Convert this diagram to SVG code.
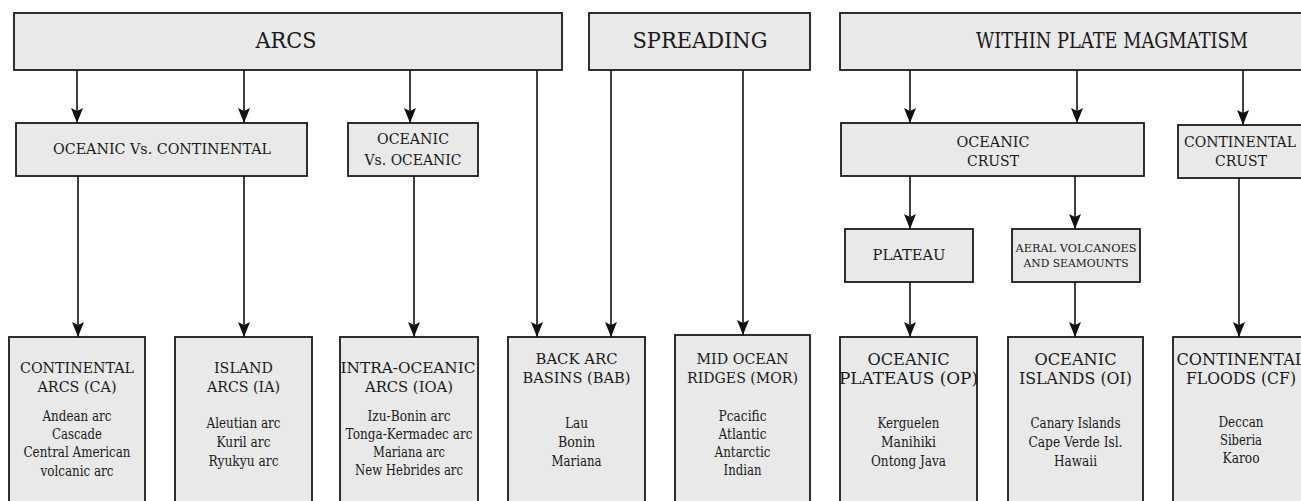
<svg xmlns="http://www.w3.org/2000/svg" width="1301" height="501" viewBox="0 0 1301 501">
  <style>
    .box { fill: #e8e9e8; stroke: #1a1a1a; stroke-width: 1.8; }
    .t { font-family: "DejaVu Serif", serif; fill: #1a1a1a; text-anchor: middle; }
    .h1 { font-size: 22.5px; }
    .h2 { font-size: 15px; }
    .h3 { font-size: 17px; }
    .sm { font-size: 11.4px; }
    .it { font-size: 14px; }
    .con { stroke: #111; stroke-width: 1.6; fill: none; marker-end: url(#arrow); }
  </style>
  <defs>
    <marker id="arrow" markerUnits="userSpaceOnUse" viewBox="0 -6 15 12" refX="15" refY="0" markerWidth="15" markerHeight="12" orient="auto">
      <path d="M0,-6 L15,0 L0,6 L3,0 z" fill="#111"/>
    </marker>
  </defs>

  <rect width="1301" height="501" fill="#ffffff"/>

  <!-- top level categories -->
  <g id="arcs">
    <rect class="box" x="14" y="13" width="548" height="57"/>
    <text class="t h1" x="286" y="48" textLength="61" lengthAdjust="spacingAndGlyphs">ARCS</text>
  </g>
  <g id="spreading">
    <rect class="box" x="589" y="13" width="221" height="57"/>
    <text class="t h1" x="700" y="48" textLength="135" lengthAdjust="spacingAndGlyphs">SPREADING</text>
  </g>
  <g id="within-plate">
    <rect class="box" x="840" y="13" width="463" height="57"/>
    <text class="t h1" x="1112" y="48" textLength="272" lengthAdjust="spacingAndGlyphs">WITHIN PLATE MAGMATISM</text>
  </g>

  <!-- second level -->
  <g id="oceanic-vs-continental">
    <rect class="box" x="16" y="123" width="291" height="53"/>
    <text class="t h2" x="162" y="154" textLength="218" lengthAdjust="spacingAndGlyphs">OCEANIC Vs. CONTINENTAL</text>
  </g>
  <g id="oceanic-vs-oceanic">
    <rect class="box" x="348" y="123" width="130" height="53"/>
    <text class="t h2" x="413" y="144" textLength="72" lengthAdjust="spacingAndGlyphs">OCEANIC</text>
    <text class="t h2" x="413" y="165" textLength="97" lengthAdjust="spacingAndGlyphs">Vs. OCEANIC</text>
  </g>
  <g id="oceanic-crust">
    <rect class="box" x="841" y="123" width="303" height="53"/>
    <text class="t h2" x="993" y="147" textLength="73" lengthAdjust="spacingAndGlyphs">OCEANIC</text>
    <text class="t h2" x="993" y="166" textLength="52" lengthAdjust="spacingAndGlyphs">CRUST</text>
  </g>
  <g id="continental-crust">
    <rect class="box" x="1178" y="125" width="125" height="53"/>
    <text class="t h2" x="1240" y="147" textLength="112" lengthAdjust="spacingAndGlyphs">CONTINENTAL</text>
    <text class="t h2" x="1241" y="166" textLength="52" lengthAdjust="spacingAndGlyphs">CRUST</text>
  </g>

  <!-- third level -->
  <g id="plateau">
    <rect class="box" x="845" y="229" width="128" height="53"/>
    <text class="t h2" x="909" y="260" textLength="73" lengthAdjust="spacingAndGlyphs">PLATEAU</text>
  </g>
  <g id="aeral-volcanoes">
    <rect class="box" x="1012" y="229" width="128" height="53"/>
    <text class="t sm" x="1076" y="252" textLength="121" lengthAdjust="spacingAndGlyphs">AERAL VOLCANOES</text>
    <text class="t sm" x="1076" y="267" textLength="105" lengthAdjust="spacingAndGlyphs">AND SEAMOUNTS</text>
  </g>

  <!-- settings -->
  <g id="continental-arcs">
    <rect class="box" x="9" y="337" width="136" height="180"/>
    <text class="t h2" x="77" y="373" textLength="114" lengthAdjust="spacingAndGlyphs">CONTINENTAL</text>
    <text class="t h2" x="77" y="392" textLength="79" lengthAdjust="spacingAndGlyphs">ARCS (CA)</text>
    <text class="t it" x="77" y="421" textLength="69" lengthAdjust="spacingAndGlyphs">Andean arc</text>
    <text class="t it" x="77" y="439" textLength="50" lengthAdjust="spacingAndGlyphs">Cascade</text>
    <text class="t it" x="77" y="457" textLength="107" lengthAdjust="spacingAndGlyphs">Central American</text>
    <text class="t it" x="77" y="476" textLength="73" lengthAdjust="spacingAndGlyphs">volcanic arc</text>
  </g>
  <g id="island-arcs">
    <rect class="box" x="175" y="337" width="137" height="180"/>
    <text class="t h2" x="243.5" y="373" textLength="59" lengthAdjust="spacingAndGlyphs">ISLAND</text>
    <text class="t h2" x="243.5" y="392" textLength="73" lengthAdjust="spacingAndGlyphs">ARCS (IA)</text>
    <text class="t it" x="243.5" y="428" textLength="74" lengthAdjust="spacingAndGlyphs">Aleutian arc</text>
    <text class="t it" x="243.5" y="447" textLength="54" lengthAdjust="spacingAndGlyphs">Kuril arc</text>
    <text class="t it" x="243.5" y="466" textLength="70" lengthAdjust="spacingAndGlyphs">Ryukyu arc</text>
  </g>
  <g id="intra-oceanic-arcs">
    <rect class="box" x="340" y="337" width="138" height="180"/>
    <text class="t h2" x="408" y="373" textLength="135" lengthAdjust="spacingAndGlyphs">INTRA-OCEANIC</text>
    <text class="t h2" x="409" y="392" textLength="88" lengthAdjust="spacingAndGlyphs">ARCS (IOA)</text>
    <text class="t it" x="409" y="421" textLength="83" lengthAdjust="spacingAndGlyphs">Izu-Bonin arc</text>
    <text class="t it" x="409" y="439" textLength="127" lengthAdjust="spacingAndGlyphs">Tonga-Kermadec arc</text>
    <text class="t it" x="409" y="457" textLength="72" lengthAdjust="spacingAndGlyphs">Mariana arc</text>
    <text class="t it" x="409" y="475" textLength="108" lengthAdjust="spacingAndGlyphs">New Hebrides arc</text>
  </g>
  <g id="back-arc-basins">
    <rect class="box" x="508" y="337" width="137" height="180"/>
    <text class="t h2" x="576.5" y="364" textLength="82" lengthAdjust="spacingAndGlyphs">BACK ARC</text>
    <text class="t h2" x="576.5" y="383" textLength="108" lengthAdjust="spacingAndGlyphs">BASINS (BAB)</text>
    <text class="t it" x="576.5" y="428" textLength="23" lengthAdjust="spacingAndGlyphs">Lau</text>
    <text class="t it" x="576.5" y="447" textLength="37" lengthAdjust="spacingAndGlyphs">Bonin</text>
    <text class="t it" x="576.5" y="466" textLength="50" lengthAdjust="spacingAndGlyphs">Mariana</text>
  </g>
  <g id="mid-ocean-ridges">
    <rect class="box" x="675" y="335" width="135" height="182"/>
    <text class="t h2" x="742.5" y="364" textLength="92" lengthAdjust="spacingAndGlyphs">MID OCEAN</text>
    <text class="t h2" x="742.5" y="383" textLength="111" lengthAdjust="spacingAndGlyphs">RIDGES (MOR)</text>
    <text class="t it" x="742.5" y="421" textLength="48" lengthAdjust="spacingAndGlyphs">Pcacific</text>
    <text class="t it" x="742.5" y="439" textLength="48" lengthAdjust="spacingAndGlyphs">Atlantic</text>
    <text class="t it" x="742.5" y="457" textLength="56" lengthAdjust="spacingAndGlyphs">Antarctic</text>
    <text class="t it" x="742.5" y="475" textLength="38" lengthAdjust="spacingAndGlyphs">Indian</text>
  </g>
  <g id="oceanic-plateaus">
    <rect class="box" x="840" y="337" width="137" height="180"/>
    <text class="t h3" x="908.5" y="365" textLength="82" lengthAdjust="spacingAndGlyphs">OCEANIC</text>
    <text class="t h3" x="908.5" y="384" textLength="139" lengthAdjust="spacingAndGlyphs">PLATEAUS (OP)</text>
    <text class="t it" x="908.5" y="428" textLength="62" lengthAdjust="spacingAndGlyphs">Kerguelen</text>
    <text class="t it" x="908.5" y="447" textLength="55" lengthAdjust="spacingAndGlyphs">Manihiki</text>
    <text class="t it" x="908.5" y="466" textLength="75" lengthAdjust="spacingAndGlyphs">Ontong Java</text>
  </g>
  <g id="oceanic-islands">
    <rect class="box" x="1008" y="337" width="135" height="180"/>
    <text class="t h3" x="1075.5" y="365" textLength="82" lengthAdjust="spacingAndGlyphs">OCEANIC</text>
    <text class="t h3" x="1075.5" y="384" textLength="113" lengthAdjust="spacingAndGlyphs">ISLANDS (OI)</text>
    <text class="t it" x="1075.5" y="428" textLength="90" lengthAdjust="spacingAndGlyphs">Canary Islands</text>
    <text class="t it" x="1075.5" y="447" textLength="94" lengthAdjust="spacingAndGlyphs">Cape Verde Isl.</text>
    <text class="t it" x="1075.5" y="466" textLength="43" lengthAdjust="spacingAndGlyphs">Hawaii</text>
  </g>
  <g id="continental-floods">
    <rect class="box" x="1173" y="337" width="130" height="180"/>
    <text class="t h3" x="1241" y="365" textLength="129" lengthAdjust="spacingAndGlyphs">CONTINENTAL</text>
    <text class="t h3" x="1241" y="384" textLength="110" lengthAdjust="spacingAndGlyphs">FLOODS (CF)</text>
    <text class="t it" x="1241" y="427" textLength="45" lengthAdjust="spacingAndGlyphs">Deccan</text>
    <text class="t it" x="1241" y="445" textLength="42" lengthAdjust="spacingAndGlyphs">Siberia</text>
    <text class="t it" x="1241" y="463" textLength="37" lengthAdjust="spacingAndGlyphs">Karoo</text>
  </g>

  <!-- connectors -->
  <g id="connectors">
    <line class="con" x1="77" y1="70" x2="77" y2="123"/>
    <line class="con" x1="244" y1="70" x2="244" y2="123"/>
    <line class="con" x1="410" y1="70" x2="410" y2="123"/>
    <line class="con" x1="537" y1="70" x2="537" y2="337"/>
    <line class="con" x1="611" y1="70" x2="611" y2="337"/>
    <line class="con" x1="743" y1="70" x2="743" y2="335"/>
    <line class="con" x1="78" y1="176" x2="78" y2="337"/>
    <line class="con" x1="244" y1="176" x2="244" y2="337"/>
    <line class="con" x1="414" y1="176" x2="414" y2="337"/>
    <line class="con" x1="910" y1="70" x2="910" y2="123"/>
    <line class="con" x1="1077" y1="70" x2="1077" y2="123"/>
    <line class="con" x1="1243" y1="70" x2="1243" y2="125"/>
    <line class="con" x1="910" y1="176" x2="910" y2="229"/>
    <line class="con" x1="1075" y1="176" x2="1075" y2="229"/>
    <line class="con" x1="1239" y1="178" x2="1239" y2="337"/>
    <line class="con" x1="910" y1="282" x2="910" y2="337"/>
    <line class="con" x1="1075" y1="282" x2="1075" y2="337"/>
  </g>
</svg>
